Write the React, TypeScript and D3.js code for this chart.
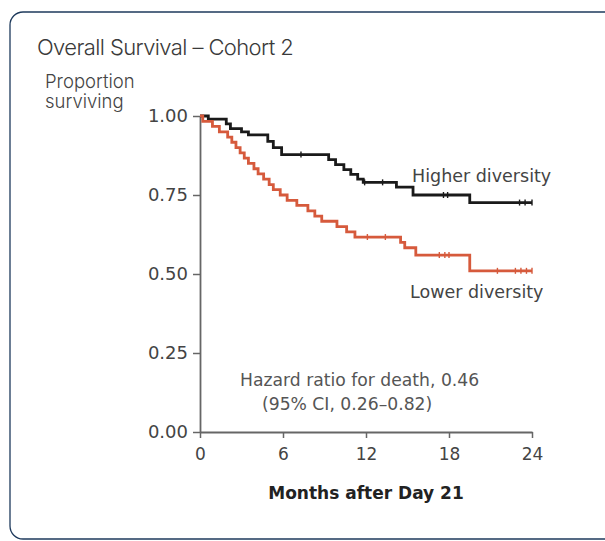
import { useEffect, useRef } from 'react'
import * as d3 from 'd3'

const WIDTH = 605
const HEIGHT = 541

// Kaplan-Meier steps (months, proportion surviving)
const HIGHER_TIME = [0, 0.6, 1.9, 2.2, 3.0, 3.5, 4.9, 5.3, 5.9, 9.3, 9.8, 10.4, 10.9, 11.4, 11.8, 14.2, 15.4, 19.5, 24]
const HIGHER_SURV = [1.0, 0.99, 0.975, 0.96, 0.95, 0.94, 0.92, 0.9, 0.878, 0.862, 0.846, 0.83, 0.815, 0.8, 0.79, 0.775, 0.75, 0.726, 0.726]
const HIGHER_CENSOR = [7.3, 11.9, 13.2, 17.6, 17.9, 23.1, 23.5, 24]

const LOWER_TIME = [0, 0.2, 0.9, 1.4, 2.0, 2.3, 2.6, 2.9, 3.2, 3.5, 3.9, 4.2, 4.6, 5.0, 5.3, 5.8, 6.3, 7.0, 7.8, 8.3, 8.8, 9.9, 10.6, 11.2, 14.5, 14.8, 15.6, 19.5, 24]
const LOWER_SURV = [1.0, 0.983, 0.967, 0.95, 0.933, 0.917, 0.9, 0.883, 0.867, 0.85, 0.833, 0.817, 0.8, 0.783, 0.767, 0.75, 0.733, 0.717, 0.7, 0.683, 0.667, 0.65, 0.633, 0.617, 0.6, 0.583, 0.56, 0.51, 0.51]
const LOWER_CENSOR = [12.1, 13.4, 17.3, 17.7, 18.0, 21.5, 22.8, 23.2, 23.6, 24]

const X_TICKS = [0, 6, 12, 18, 24]
const Y_TICKS = [0, 0.25, 0.5, 0.75, 1]

const SERIES = [
  { label: 'Higher diversity', time: HIGHER_TIME, surv: HIGHER_SURV, censor: HIGHER_CENSOR, color: '#1a1a1a', lx: 412, ly: 182 },
  { label: 'Lower diversity', time: LOWER_TIME, surv: LOWER_SURV, censor: LOWER_CENSOR, color: '#d65a3c', lx: 410, ly: 298 },
]

const PLOT_FONT = '"DejaVu Sans", sans-serif'
const HEAD_FONT = 'Inter, sans-serif'

export default function App() {
  const svgRef = useRef<SVGSVGElement>(null)

  useEffect(() => {
    const svg = d3.select(svgRef.current)
    svg.selectAll('*').remove()

    // card
    svg.append('rect')
      .attr('x', 10).attr('y', 12).attr('width', 640).attr('height', 527)
      .attr('rx', 13).attr('fill', '#fff')
      .attr('stroke', '#1e3a5c').attr('stroke-width', 1.3)

    svg.append('text')
      .attr('x', 37).attr('y', 55)
      .attr('font-family', HEAD_FONT).attr('font-weight', 300)
      .attr('font-size', 22).attr('letter-spacing', -0.6).attr('fill', '#3a3a3a')
      .text('Overall Survival – Cohort 2')

    ;['Proportion', 'surviving'].forEach((t, i) => {
      svg.append('text')
        .attr('x', 45).attr('y', 88 + i * 20)
        .attr('font-family', HEAD_FONT).attr('font-weight', 300)
        .attr('font-size', 18.5).attr('fill', '#444')
        .text(t)
    })

    const x = d3.scaleLinear([0, 24], [200, 532])
    const y = d3.scaleLinear([0, 1], [432, 116])

    // ── Axes ──
    svg.append('g')
      .attr('transform', `translate(0,${y(0)})`)
      .call(d3.axisBottom(x).tickValues(X_TICKS).tickSize(6).tickPadding(10).tickSizeOuter(0))
      .call(ag => ag.select('.domain').attr('stroke', '#666').attr('stroke-width', 1.8))
      .call(ag => ag.selectAll('.tick line').attr('stroke', '#666').attr('stroke-width', 1.5))
      .call(ag => ag.selectAll('text').attr('fill', '#444').attr('font-size', 17).attr('font-family', PLOT_FONT))

    svg.append('g')
      .attr('transform', `translate(${x(0)},0)`)
      .call(d3.axisLeft(y).tickValues(Y_TICKS).tickFormat(d3.format('.2f')).tickSize(7).tickPadding(5).tickSizeOuter(0))
      .call(ag => ag.select('.domain').attr('stroke', '#666').attr('stroke-width', 1.8))
      .call(ag => ag.selectAll('.tick line').attr('stroke', '#666').attr('stroke-width', 1.5))
      .call(ag => ag.selectAll('text').attr('fill', '#444').attr('font-size', 18).attr('font-family', PLOT_FONT))

    svg.append('text')
      .attr('x', x(12)).attr('y', 499).attr('text-anchor', 'middle')
      .attr('font-family', PLOT_FONT).attr('font-weight', 700)
      .attr('font-size', 17).attr('fill', '#222')
      .text('Months after Day 21')

    // ── Curves ──
    SERIES.forEach(s => {
      const pts = s.time.map((t, i) => [t, s.surv[i]] as [number, number])
      const line = d3.line<[number, number]>()
        .x(d => x(d[0])).y(d => y(d[1]))
        .curve(d3.curveStepAfter)
      svg.append('path')
        .datum(pts)
        .attr('d', line)
        .attr('fill', 'none').attr('stroke', s.color).attr('stroke-width', 2.8)

      const survAt = (t: number) => {
        const idx = d3.bisectRight(s.time, t) - 1
        return s.surv[Math.max(0, idx)]
      }
      s.censor.forEach(t => {
        svg.append('line')
          .attr('x1', x(t)).attr('x2', x(t))
          .attr('y1', y(survAt(t)) - 3).attr('y2', y(survAt(t)) + 3)
          .attr('stroke', s.color).attr('stroke-width', 1.4)
      })

      svg.append('text')
        .attr('x', s.lx).attr('y', s.ly)
        .attr('font-family', PLOT_FONT).attr('font-size', 17.5).attr('fill', '#444')
        .text(s.label)
    })

    svg.append('text')
      .attr('x', 240).attr('y', 386)
      .attr('font-family', PLOT_FONT).attr('font-size', 17.2).attr('fill', '#555')
      .text('Hazard ratio for death, 0.46')
    svg.append('text')
      .attr('x', 262).attr('y', 410)
      .attr('font-family', PLOT_FONT).attr('font-size', 17.2).attr('fill', '#555')
      .text('(95% CI, 0.26–0.82)')
  }, [])

  return (
    <svg
      ref={svgRef}
      width={WIDTH}
      height={HEIGHT}
      style={{ position: 'absolute', left: 0, top: 0, background: '#fff' }}
    />
  )
}
